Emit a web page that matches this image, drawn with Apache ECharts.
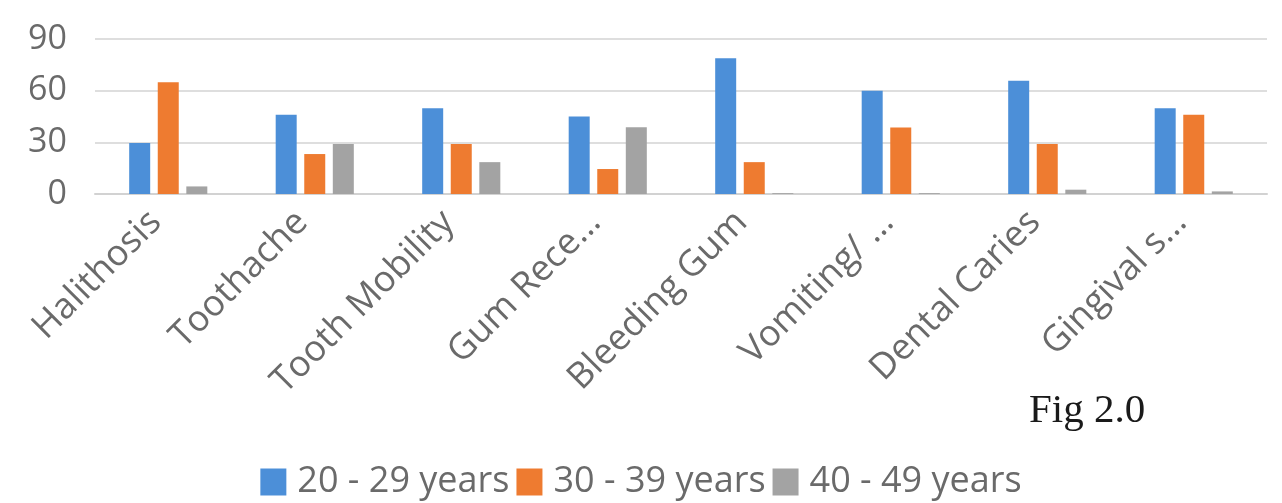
<!DOCTYPE html>
<html>
<head>
<meta charset="utf-8">
<title>Oral symptoms by age group</title>
<script src="https://cdn.jsdelivr.net/npm/echarts@6/dist/echarts.min.js"></script>
<style>
  html, body { margin: 0; padding: 0; background: #ffffff; }
  #chart { width: 1282px; height: 503px; }
</style>
</head>
<body>
<div id="chart"></div>
<script>
// Symptom categories (long names are shortened as on the axis)
const categories = [
  'Halithosis', 'Toothache', 'Tooth Mobility', 'Gum Rece...',
  'Bleeding Gum', 'Vomiting/ ...', 'Dental Caries', 'Gingival s...'
];

// Respondents per age group
const age20to29 = [29.6, 46, 49.8, 45, 78.8, 60, 65.8, 49.8];
const age30to39 = [64.9, 23.2, 29.1, 14.5, 18.5, 38.6, 29.1, 46];
const age40to49 = [4.4, 29.1, 18.5, 38.8, 0.5, 0.5, 2.5, 1.5];

const seriesNames = ['20 - 29 years', '30 - 39 years', '40 - 49 years'];
const seriesColors = ['#4c8fd8', '#ee7b30', '#a3a3a3'];

// Value axis ticks
const yMin = 0;
const yMax = 90;
const yStep = 30;

const labelFont = '"Open Sans", "Noto Sans", sans-serif';
const labelColor = '#6a6a6a';

const chart = echarts.init(document.getElementById('chart'), null, { renderer: 'canvas' });

const values = [age20to29, age30to39, age40to49];

chart.setOption({
  animation: false,
  backgroundColor: '#ffffff',
  color: seriesColors,
  title: {
    text: 'Fig 2.0',
    left: 1029,
    top: 391,
    padding: 0,
    textStyle: {
      fontFamily: '"Liberation Serif", "DejaVu Serif", serif',
      fontSize: 41,
      fontWeight: 'normal',
      color: '#1a1a1a'
    }
  },
  grid: { left: 95, right: 15, top: 39, bottom: 309, containLabel: false },
  legend: {
    data: seriesNames,
    left: 'center',
    top: 459,
    icon: 'rect',
    itemWidth: 26,
    itemHeight: 27,
    itemGap: 7,
    textStyle: {
      fontFamily: labelFont,
      fontSize: 36,
      color: labelColor,
      padding: [0, 0, 0, 6]
    }
  },
  xAxis: {
    type: 'category',
    data: categories,
    axisTick: { show: false },
    axisLine: { lineStyle: { color: '#d2d2d2', width: 2 } },
    axisLabel: {
      interval: 0,
      rotate: 45,
      margin: 10,
      padding: [0, 18, 0, 0],
      fontFamily: labelFont,
      fontSize: 36,
      color: labelColor
    }
  },
  yAxis: {
    type: 'value',
    min: yMin,
    max: yMax,
    interval: yStep,
    axisLine: { show: false },
    axisTick: { show: false },
    splitLine: { lineStyle: { color: '#dedede', width: 2 } },
    axisLabel: {
      margin: 28,
      fontFamily: labelFont,
      fontSize: 34,
      color: labelColor
    }
  },
  series: seriesNames.map((name, i) => ({
    name: name,
    type: 'bar',
    data: values[i],
    barWidth: 21,
    barGap: '36%',
    itemStyle: { color: seriesColors[i] }
  }))
});
</script>
</body>
</html>
